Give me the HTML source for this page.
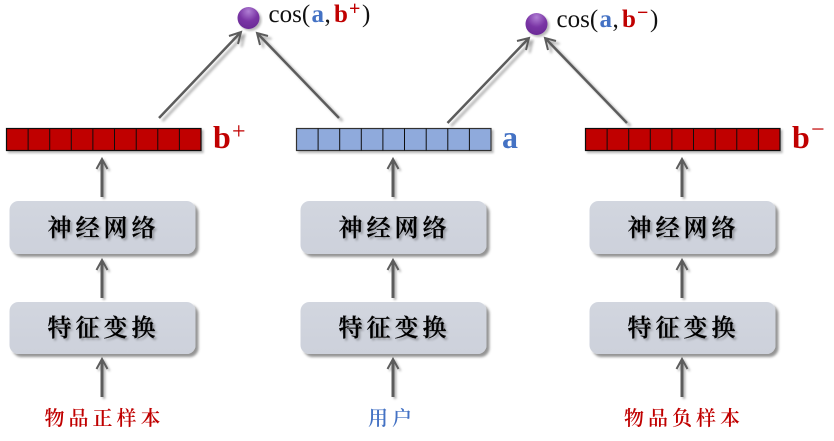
<!DOCTYPE html>
<html><head><meta charset="utf-8"><style>
html,body{margin:0;padding:0;background:#fff;width:834px;height:441px;overflow:hidden}
svg{display:block}
.cjk{font-family:"Liberation Serif","Noto Serif CJK SC",serif}
.m{font-family:"Liberation Serif",serif}
</style></head><body>
<svg width="834" height="441" viewBox="0 0 834 441" xmlns="http://www.w3.org/2000/svg">
<defs>
<filter id="s" x="-20%" y="-30%" width="140%" height="170%"><feDropShadow dx="3" dy="3" stdDeviation="1.3" flood-color="#000" flood-opacity=".42"/></filter>
<filter id="t" x="-10%" y="-10%" width="125%" height="130%"><feDropShadow dx="2" dy="2" stdDeviation="1" flood-color="#000" flood-opacity=".28"/></filter>
<filter id="a" x="-15%" y="-15%" width="140%" height="140%"><feDropShadow dx="3.5" dy="3" stdDeviation="1.4" flood-color="#000" flood-opacity=".32"/></filter>
<radialGradient id="g" cx=".5" cy=".2" r=".8"><stop offset="0" stop-color="#b07fd4"/><stop offset=".55" stop-color="#7a35a5"/><stop offset="1" stop-color="#6a2a96"/></radialGradient>
<linearGradient id="bx" x1="0" y1="0" x2="0" y2="1"><stop offset="0" stop-color="#d2d6df"/><stop offset="1" stop-color="#cdd1db"/></linearGradient>
<g id="arr" fill="none" stroke="#5c5c5c"><path d="M0 39V2" stroke-width="3"/><path d="M-5.5 11L0 1L5.5 11" stroke-width="2"/></g>
<g id="red"><rect width="194.5" height="22" fill="#c00000" stroke="#111" stroke-width="1.2"/><path d="M21.6 0v22M43.2 0v22M64.8 0v22M86.4 0v22M108 0v22M129.7 0v22M151.3 0v22M172.9 0v22" stroke="#111" stroke-width="1"/></g>
<g id="blue"><rect width="194.5" height="22" fill="#8faadc" stroke="#333" stroke-width="1.2"/><path d="M21.6 0v22M43.2 0v22M64.8 0v22M86.4 0v22M108 0v22M129.7 0v22M151.3 0v22M172.9 0v22" stroke="#111" stroke-width="1"/></g>
</defs>

<!-- vector bars -->
<use href="#red" x="6.5" y="128.5" filter="url(#t)"/>
<use href="#blue" x="296.5" y="128.5" filter="url(#t)"/>
<use href="#red" x="585.5" y="128.5" filter="url(#t)"/>

<!-- boxes -->
<g filter="url(#s)" fill="url(#bx)">
<rect x="9.5" y="201" width="186" height="53" rx="9"/>
<rect x="9.5" y="302" width="186" height="52" rx="9"/>
<rect x="300.5" y="201" width="186" height="53" rx="9"/>
<rect x="300.5" y="302" width="186" height="52" rx="9"/>
<rect x="589.5" y="201" width="186" height="53" rx="9"/>
<rect x="589.5" y="302" width="186" height="52" rx="9"/>
</g>

<!-- vertical arrows -->
<g filter="url(#t)">
<use href="#arr" x="102" y="158"/><use href="#arr" x="102" y="259"/><use href="#arr" x="102" y="358"/>
<use href="#arr" x="393" y="158"/><use href="#arr" x="393" y="259"/><use href="#arr" x="393" y="358"/>
<use href="#arr" x="682" y="158"/><use href="#arr" x="682" y="259"/><use href="#arr" x="682" y="358"/>
</g>

<!-- diagonal arrows -->
<g fill="none" stroke="#5c5c5c" stroke-width="2.5" filter="url(#a)">
<path d="M159 118L240 33"/><path d="M229 36L241 32L238 44" stroke-width="2"/>
<path d="M339 118L258 34"/><path d="M268 36L257 33L260 45" stroke-width="2"/>
<path d="M447.5 123L528 39"/><path d="M517 41L529 38L526 50" stroke-width="2"/>
<path d="M627 123L546 39"/><path d="M556 41L545 38L548 50" stroke-width="2"/>
</g>

<!-- circles -->
<circle cx="248.5" cy="18" r="11" fill="url(#g)" filter="url(#t)"/>
<circle cx="536.5" cy="24" r="11" fill="url(#g)" filter="url(#t)"/>

<!-- cos labels -->
<g class="m" font-size="25" fill="#111">
<text x="268.5" y="22">cos(</text>
<text x="311.5" y="22" fill="#4472c4" font-weight="bold">a</text>
<text x="324.5" y="22">,</text>
<text x="334" y="22" fill="#c00000" font-weight="bold">b</text>
<text x="349" y="15" fill="#c00000" font-weight="bold" font-size="20">+</text>
<text x="362" y="22">)</text>
<text x="556.5" y="27">cos(</text>
<text x="599.5" y="27" fill="#4472c4" font-weight="bold">a</text>
<text x="612.5" y="27">,</text>
<text x="622" y="27" fill="#c00000" font-weight="bold">b</text>
<text x="637" y="19" fill="#c00000" font-weight="bold" font-size="20">−</text>
<text x="650" y="27">)</text>
</g>

<!-- vector labels -->
<g class="m" font-size="32" font-weight="bold">
<text x="213" y="148" fill="#c00000">b</text>
<text x="232" y="139" fill="#c00000" font-size="24" font-weight="normal">+</text>
<text x="502" y="148" fill="#4472c4">a</text>
<text x="792" y="148" fill="#c00000">b</text>
<text x="811" y="137" fill="#c00000" font-size="24" font-weight="normal">−</text>
</g>

<!-- box labels -->
<g class="cjk" font-size="24" fill="#000" stroke="#000" stroke-width=".25" font-weight="600" text-anchor="middle" letter-spacing="4" filter="url(#t)">
<text x="103.5" y="236">神经网络</text>
<text x="103.5" y="336">特征变换</text>
<text x="394.5" y="236">神经网络</text>
<text x="394.5" y="336">特征变换</text>
<text x="683.5" y="236">神经网络</text>
<text x="683.5" y="336">特征变换</text>
</g>

<!-- bottom labels -->
<g class="cjk" font-size="20" font-weight="600" text-anchor="middle" letter-spacing="4">
<text x="104.5" y="425" fill="#c00000">物品正样本</text>
<text x="392" y="425" fill="#4472c4">用户</text>
<text x="684" y="425" fill="#c00000">物品负样本</text>
</g>
</svg>
</body></html>
